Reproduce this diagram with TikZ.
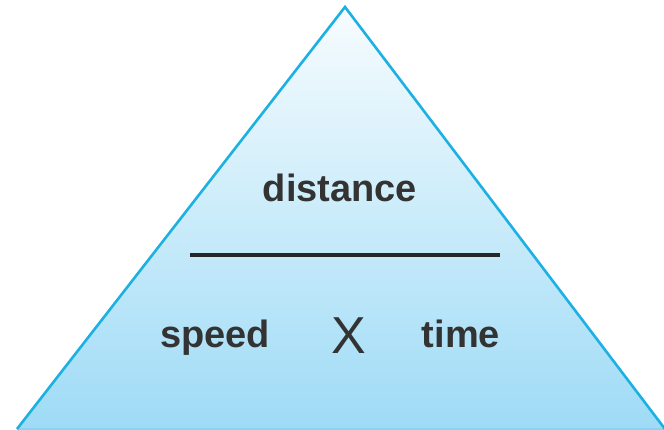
\documentclass[tikz,border=0pt]{standalone}
\usepackage{fontspec}
\setmainfont{Liberation Sans}
\definecolor{edgeblue}{HTML}{1DB0E2}
\definecolor{fillbot}{HTML}{9EDBF6}
\definecolor{filltop}{HTML}{F7FCFE}
\definecolor{basecol}{HTML}{8CD3F2}
\definecolor{txt}{HTML}{333333}
\tikzset{
  lbl/.style={anchor=base, inner sep=0pt, text=txt, font=\fontsize{38}{40}\selectfont\bfseries},
  bigx/.style={anchor=base, inner sep=0pt, text=txt, font=\fontsize{52}{54}\selectfont},
}
\begin{document}
\begin{tikzpicture}[x=1pt,y=-1pt]
\useasboundingbox (0,0) rectangle (664,430);
\coordinate (apex) at (345,7);
\coordinate (bl) at (17,429);
\coordinate (br) at (665,429);
\shade[top color=filltop, bottom color=fillbot] (apex) -- (br) -- (bl) -- cycle;
\draw[basecol, line width=2pt] (bl) -- (br);
\draw[edgeblue, line width=2.6pt, line join=miter] (bl) -- (apex) -- (br);
\node[lbl] (dist) at (340,202) {distance};
\coordinate (l1) at (190,255);
\coordinate (l2) at (500,255);
\draw[line width=4.5pt, color=black!85] (l1) -- (l2);
\node[lbl] (speed) at (215,347) {speed};
\node[bigx] (times) at (349,353) {X};
\node[lbl] (time) at (461,347) {time};
\end{tikzpicture}
\end{document}
